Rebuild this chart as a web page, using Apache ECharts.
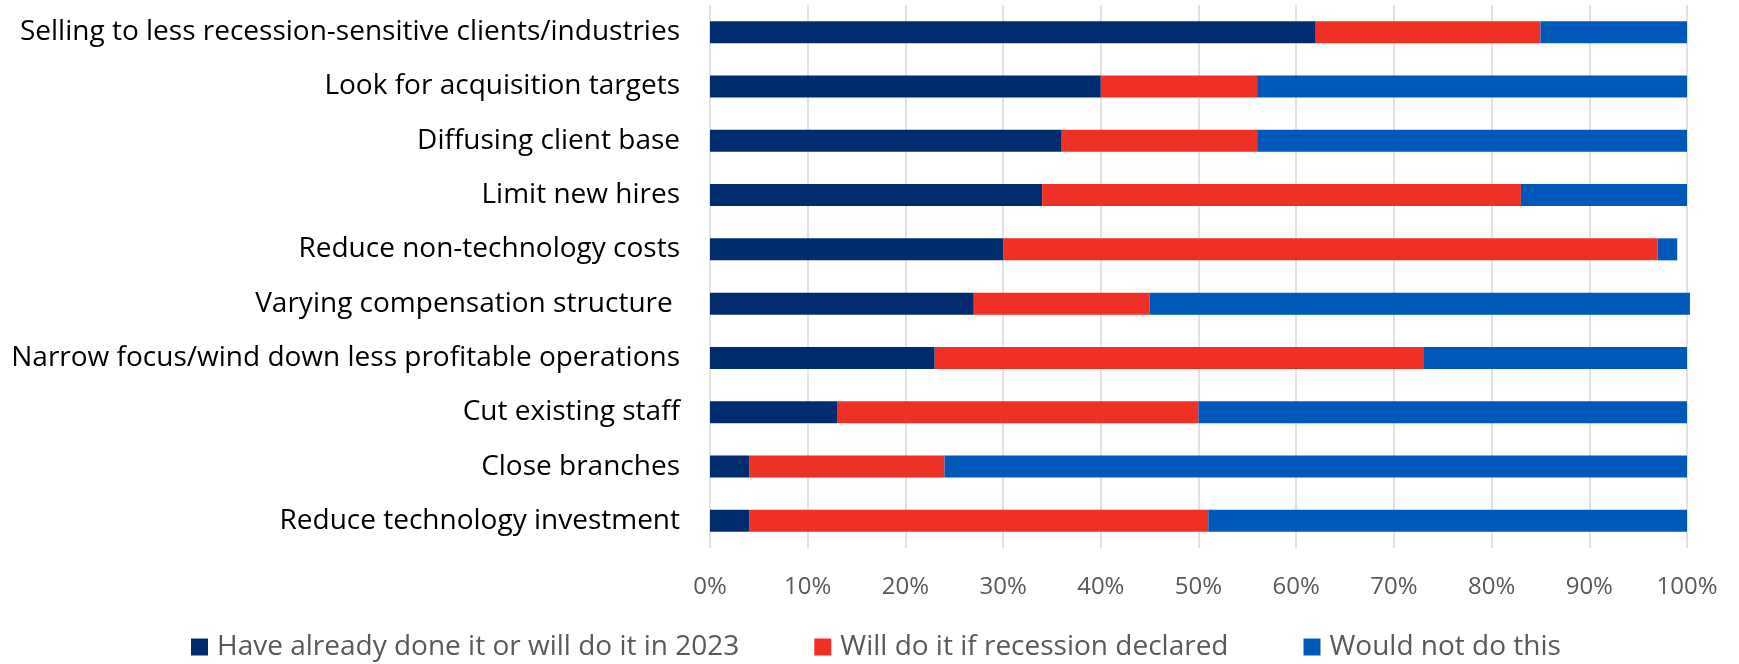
<!DOCTYPE html>
<html style="height: 100%">
<head>
    <meta charset="utf-8">
</head>
<body style="height: 100%; margin: 0; background: #fff">
<div id="container" style="width: 1739px; height: 664px"></div>
<script src="https://cdn.jsdelivr.net/npm/echarts@6/dist/echarts.min.js"></script>
<script>
    // categories listed from top to bottom
    var categories = [
        'Selling to less recession-sensitive clients/industries',
        'Look for acquisition targets',
        'Diffusing client base',
        'Limit new hires',
        'Reduce non-technology costs',
        'Varying compensation structure ',
        'Narrow focus/wind down less profitable operations',
        'Cut existing staff',
        'Close branches',
        'Reduce technology investment'
    ];
    var alreadyDone = [62, 40, 36, 34, 30, 27, 23, 13, 4, 4];
    var ifRecession = [23, 16, 20, 49, 67, 18, 50, 37, 20, 47];
    var wouldNot = [15, 44, 44, 17, 2, 55.3, 27, 50, 76, 49];
    var seriesNames = [
        'Have already done it or will do it in 2023',
        'Will do it if recession declared',
        'Would not do this'
    ];

    var font = '"Open Sans", sans-serif';
    var myChart = echarts.init(document.getElementById('container'), null, {renderer: 'canvas'});

    function bar(name, data, color) {
        return {
            name: name,
            type: 'bar',
            stack: 'total',
            barWidth: 22,
            clip: false,
            itemStyle: {color: color},
            data: data
        };
    }

    var option = {
        animation: false,
        legend: {
            bottom: -2,
            left: 186,
            itemWidth: 17,
            itemHeight: 17,
            itemGap: 75,
            icon: 'rect',
            textStyle: {fontFamily: font, fontSize: 28, color: '#595959', padding: [0, 0, 0, 4]},
            data: seriesNames
        },
        grid: {
            left: 710,
            right: 52,
            top: 5,
            bottom: 116
        },
        xAxis: {
            type: 'value',
            min: 0,
            max: 100,
            interval: 10,
            axisLabel: {
                formatter: '{value}%',
                fontFamily: font,
                fontSize: 24,
                color: '#595959',
                margin: 27
            },
            axisLine: {show: false},
            axisTick: {show: false},
            splitLine: {lineStyle: {color: '#d9d9d9', width: 1.5}}
        },
        yAxis: {
            type: 'category',
            inverse: true,
            data: categories,
            axisLine: {show: false},
            axisTick: {show: false},
            axisLabel: {
                fontFamily: font,
                fontSize: 28,
                color: '#000',
                margin: 30
            }
        },
        series: [
            bar(seriesNames[0], alreadyDone, '#002C6F'),
            bar(seriesNames[1], ifRecession, '#EE3124'),
            bar(seriesNames[2], wouldNot, '#0058B8')
        ]
    };

    myChart.setOption(option);
</script>
</body>
</html>
